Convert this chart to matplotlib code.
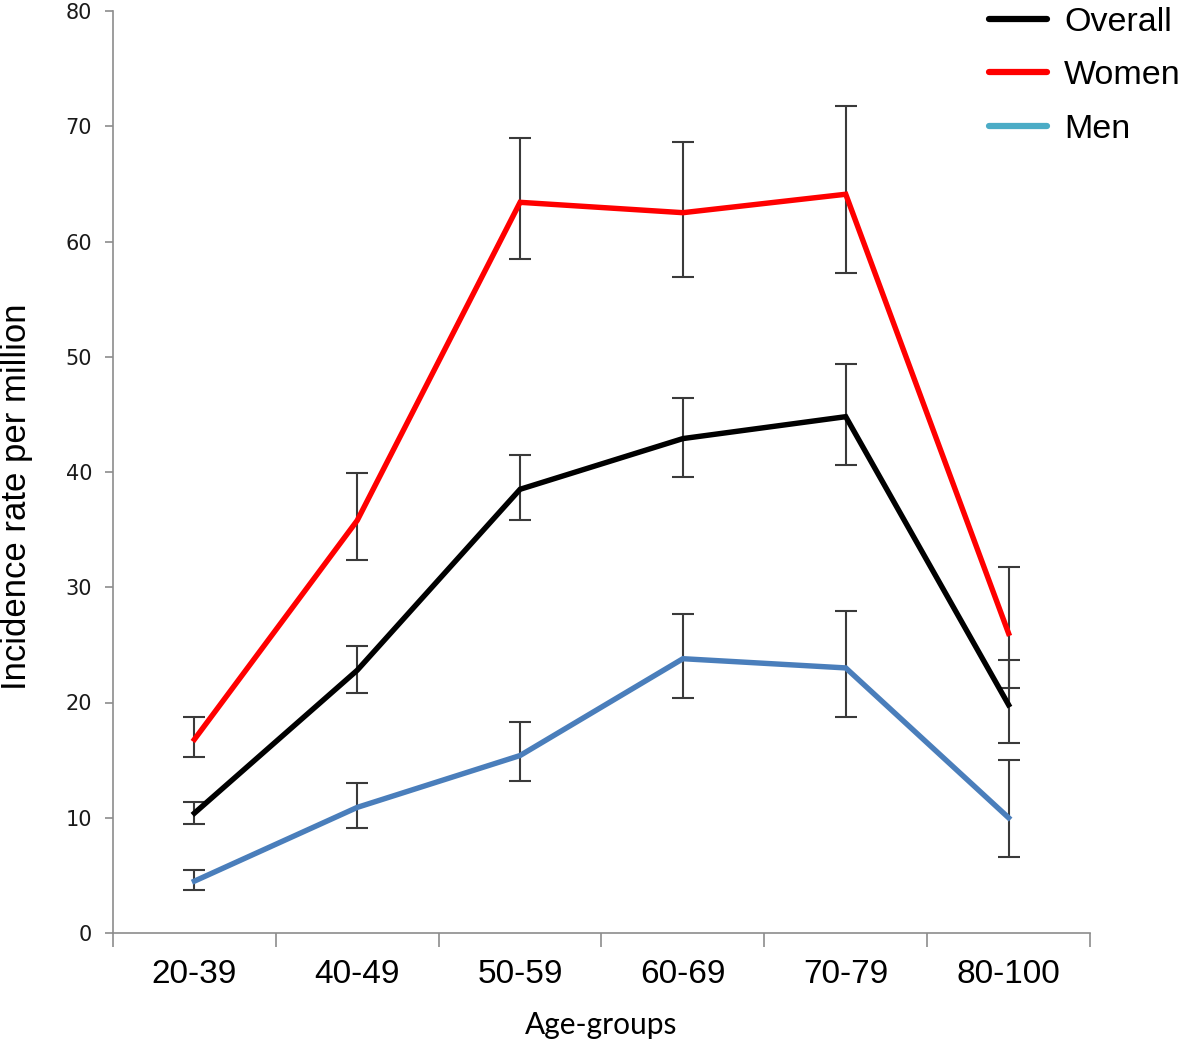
#!/usr/bin/env python3
# -*- coding: utf-8 -*-
"""Incidence rate per million by age group, with error bars."""
import matplotlib
matplotlib.use("Agg")
import matplotlib.pyplot as plt
from matplotlib.lines import Line2D
import numpy as np

AGE_GROUPS = ["20-39", "40-49", "50-59", "60-69", "70-79", "80-100"]

OVERALL = [10.4, 22.8, 38.5, 42.9, 44.8, 19.8]
OVERALL_LO = [9.5, 20.8, 35.8, 39.6, 40.6, 16.5]
OVERALL_HI = [11.4, 24.9, 41.5, 46.4, 49.4, 23.7]

WOMEN = [16.8, 35.8, 63.4, 62.5, 64.1, 26.0]
WOMEN_LO = [15.3, 32.4, 58.5, 56.9, 57.3, 21.3]
WOMEN_HI = [18.7, 39.9, 69.0, 68.6, 71.8, 31.8]

MEN = [4.5, 10.9, 15.4, 23.8, 23.0, 10.0]
MEN_LO = [3.7, 9.1, 13.2, 20.4, 18.7, 6.6]
MEN_HI = [5.5, 13.0, 18.3, 27.7, 27.9, 15.0]

SERIES = [
    ("Overall", OVERALL, OVERALL_LO, OVERALL_HI, "#000000", "#000000"),
    ("Women", WOMEN, WOMEN_LO, WOMEN_HI, "#FF0000", "#FF0000"),
    ("Men", MEN, MEN_LO, MEN_HI, "#4A7EBB", "#4BACC6"),
]

SANS = ["Liberation Sans", "Arial", "DejaVu Sans"]

fig = plt.figure(figsize=(11.81, 10.40), dpi=100)
ax = fig.add_axes([113 / 1181, 1 - 933 / 1040, 977 / 1181, 922 / 1040])

x = np.arange(len(AGE_GROUPS))
for name, vals, lo, hi, color, _ in SERIES:
    vals = np.array(vals)
    yerr = [vals - np.array(lo), np.array(hi) - vals]
    ax.errorbar(x, vals, yerr=yerr, fmt="none", ecolor="#3a3a3a",
                elinewidth=1.5, capsize=8, capthick=1.5, zorder=2)
    ax.plot(x, vals, color=color, linewidth=3.9, solid_joinstyle="miter", zorder=3)

ax.set_xlim(-0.5, len(AGE_GROUPS) - 0.5)
ax.set_ylim(0, 80)
ax.set_yticks(range(0, 81, 10))
ax.set_xticks(x)
ax.set_xticklabels(AGE_GROUPS, family=SANS, fontsize=24)
ax.set_xticks(np.arange(-0.5, len(AGE_GROUPS), 1.0), minor=True)

for side in ("top", "right"):
    ax.spines[side].set_visible(False)
for side in ("left", "bottom"):
    ax.spines[side].set_color("#8c8c8c")
    ax.spines[side].set_linewidth(1.2)

ax.tick_params(axis="x", which="major", length=0, pad=19)
ax.tick_params(axis="x", which="minor", length=10, width=1.2, color="#8c8c8c")
ax.tick_params(axis="y", length=6, width=1.2, color="#8c8c8c", pad=9,
               labelsize=15, labelcolor="#1a1a1a")

ax.set_ylabel("Incidence rate per million", family=SANS, fontsize=25)
ax.yaxis.set_label_coords(-0.082, 0.473)
ax.set_xlabel("Age-groups", family=["Lato", "DejaVu Sans"], fontsize=21.5)
ax.xaxis.set_label_coords(0.5, -0.0845)

handles = [Line2D([], [], color=leg_color, linewidth=4.5, solid_capstyle="round")
           for _, _, _, _, _, leg_color in SERIES]
ax.legend(handles, [s[0] for s in SERIES], loc="upper left",
          bbox_to_anchor=(986 / 1181, 0.997), bbox_transform=fig.transFigure,
          frameon=False, prop={"family": SANS, "size": 24.5},
          handlelength=1.7, handletextpad=0.5, labelspacing=0.67,
          borderaxespad=0, borderpad=0.1)

fig.savefig("out.png", dpi=100)
